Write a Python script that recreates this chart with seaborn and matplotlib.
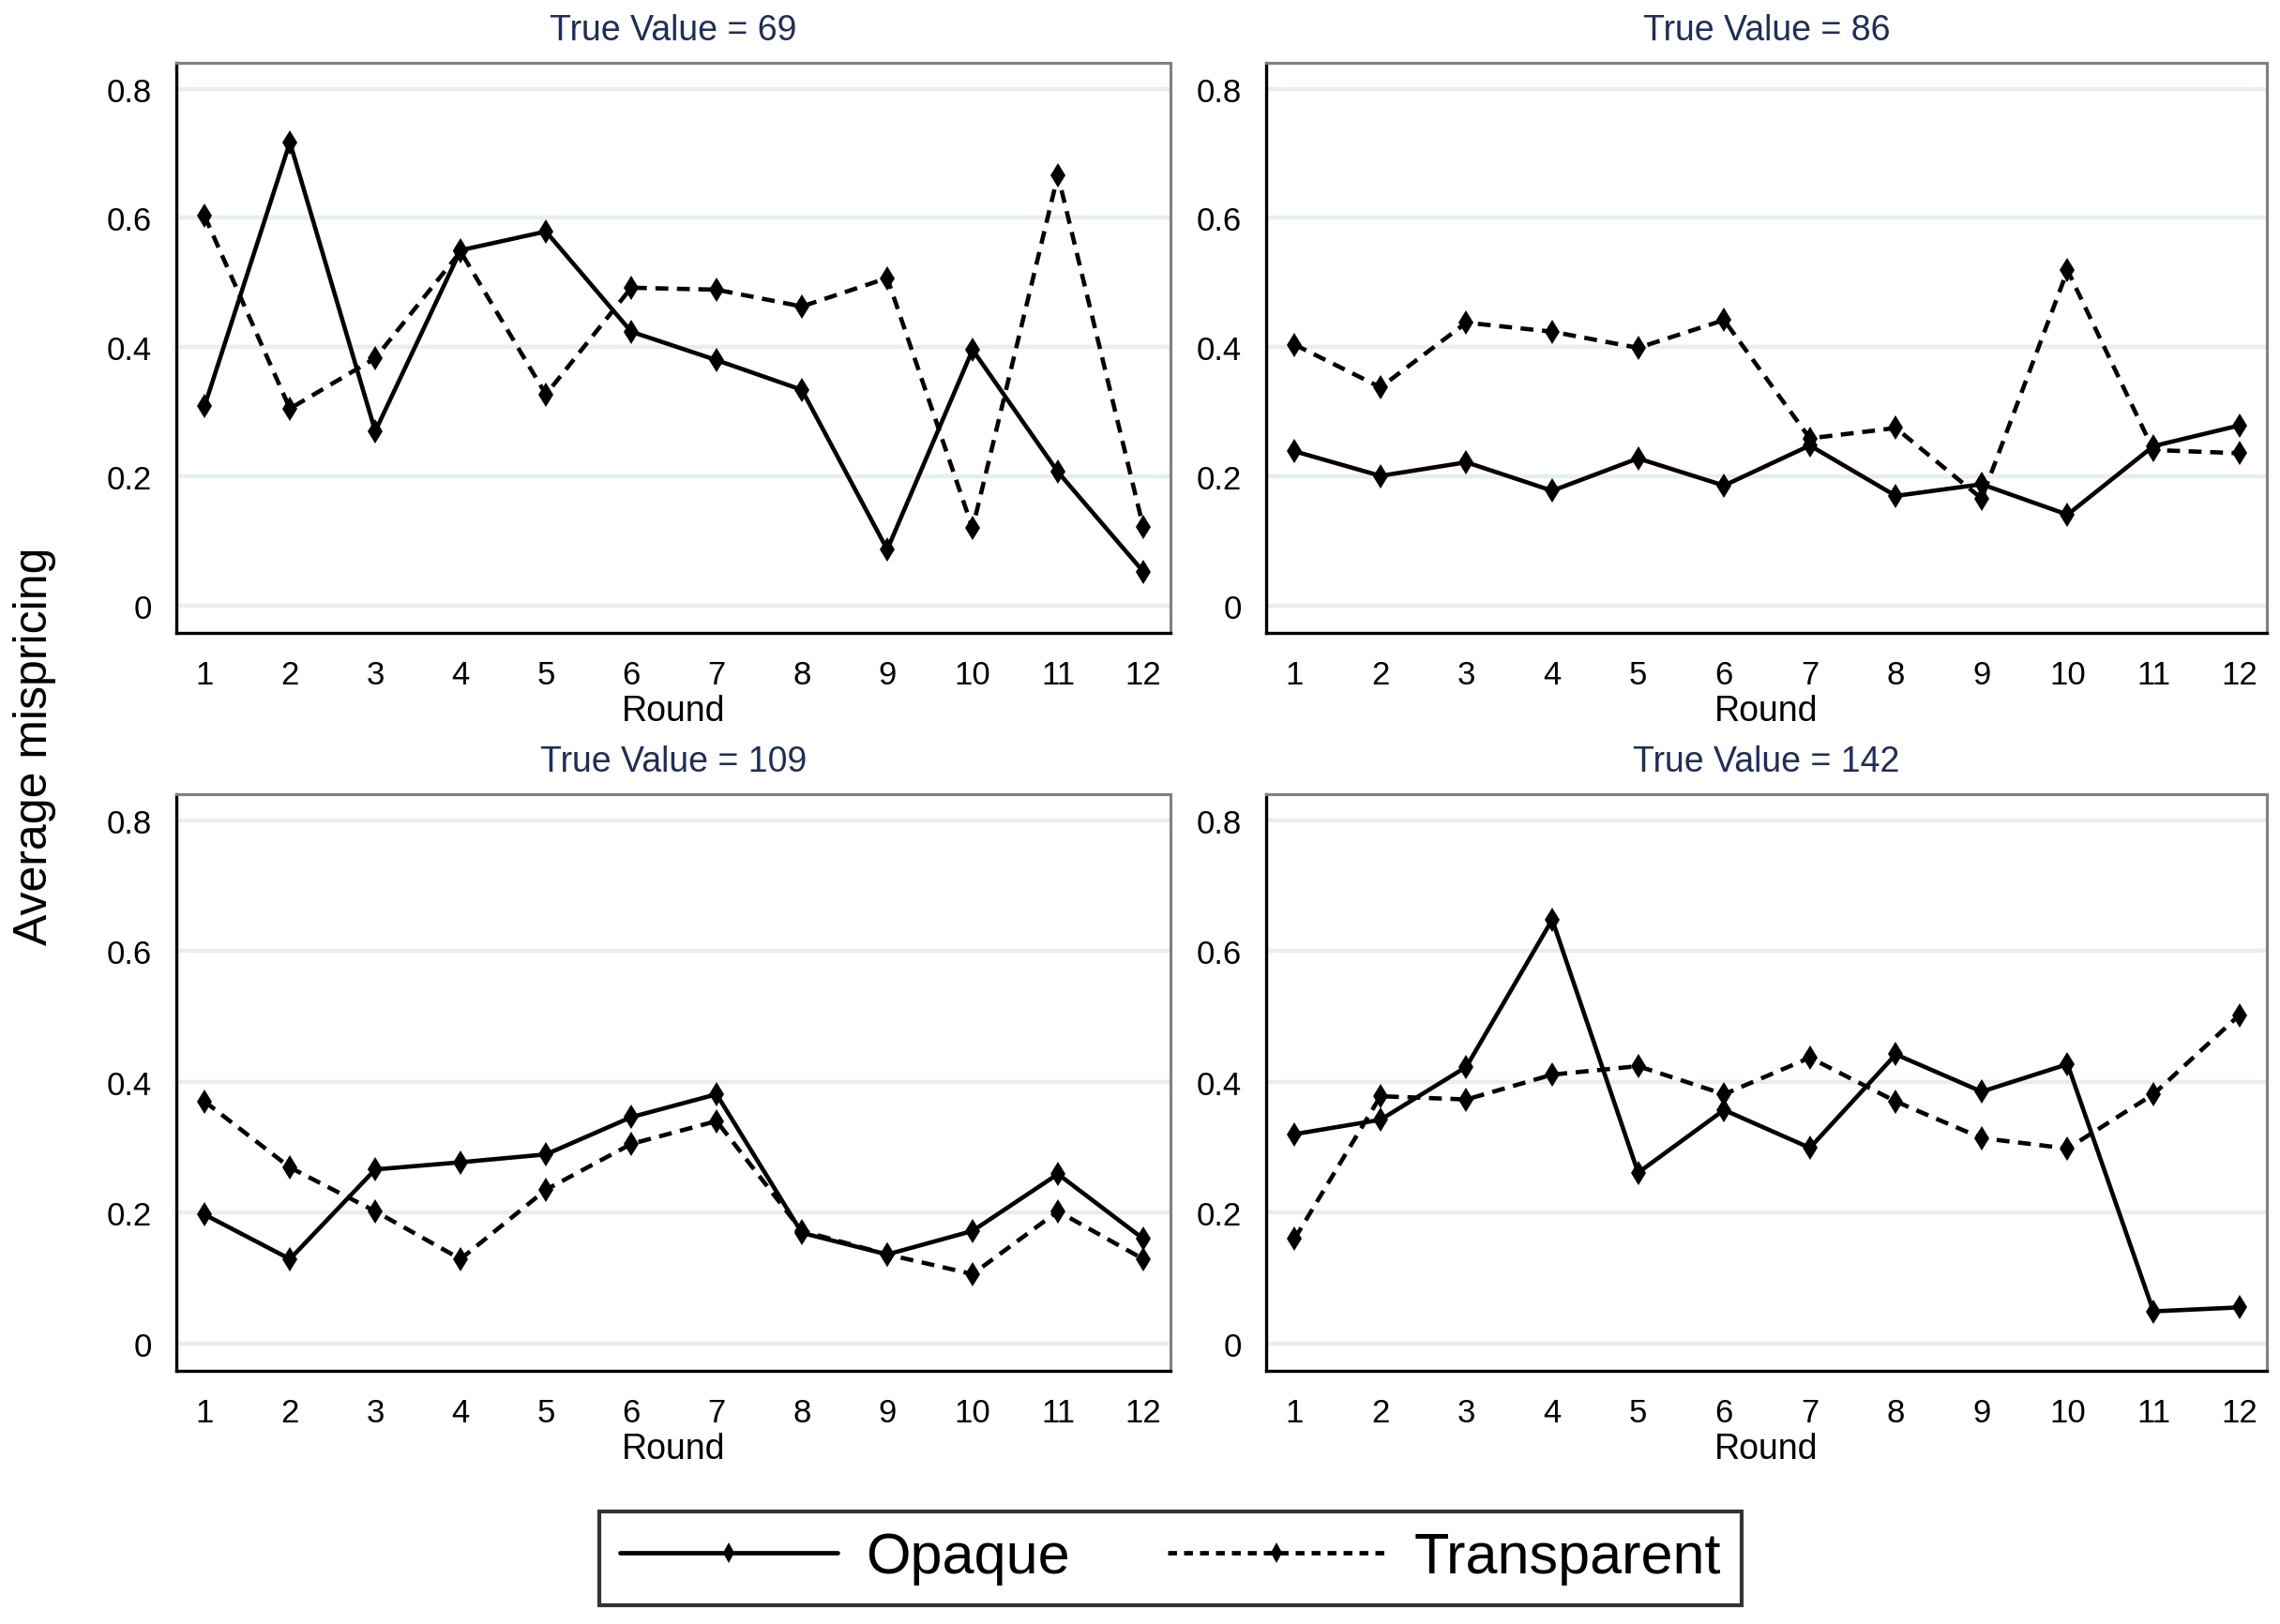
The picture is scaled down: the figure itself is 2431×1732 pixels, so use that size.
"""Average mispricing per round, opaque vs transparent markets, one panel per true value."""

import matplotlib
matplotlib.use("Agg")
import matplotlib.pyplot as plt
import pandas as pd
import seaborn as sns
from matplotlib.lines import Line2D

ROUNDS = list(range(1, 13))
TRUE_VALUES = [69, 86, 109, 142]
TREATMENTS = ["Opaque", "Transparent"]

OPAQUE_69 = [0.309, 0.717, 0.270, 0.550, 0.579, 0.424, 0.380, 0.334, 0.087, 0.396, 0.207, 0.053]
TRANSP_69 = [0.603, 0.305, 0.383, 0.548, 0.327, 0.492, 0.489, 0.463, 0.507, 0.120, 0.666, 0.122]

OPAQUE_86 = [0.239, 0.201, 0.222, 0.178, 0.228, 0.186, 0.248, 0.170, 0.188, 0.141, 0.247, 0.279]
TRANSP_86 = [0.404, 0.338, 0.438, 0.424, 0.399, 0.442, 0.259, 0.275, 0.166, 0.519, 0.241, 0.236]

OPAQUE_109 = [0.197, 0.129, 0.266, 0.277, 0.289, 0.346, 0.381, 0.169, 0.136, 0.172, 0.259, 0.160]
TRANSP_109 = [0.370, 0.269, 0.202, 0.129, 0.235, 0.305, 0.340, 0.172, 0.136, 0.106, 0.202, 0.129]

OPAQUE_142 = [0.320, 0.342, 0.423, 0.648, 0.261, 0.357, 0.299, 0.442, 0.385, 0.427, 0.049, 0.055]
TRANSP_142 = [0.160, 0.378, 0.373, 0.411, 0.424, 0.381, 0.437, 0.370, 0.314, 0.298, 0.381, 0.502]

SERIES = {
    69: (OPAQUE_69, TRANSP_69),
    86: (OPAQUE_86, TRANSP_86),
    109: (OPAQUE_109, TRANSP_109),
    142: (OPAQUE_142, TRANSP_142),
}

Y_TICKS = [0, 0.2, 0.4, 0.6, 0.8]
Y_TICK_LABELS = ["0", "0.2", "0.4", "0.6", "0.8"]

TITLE_COLOR = "#1f2d5c"
GRID_COLOR = "#e6eff0"
FRAME_COLOR = "#808080"


def long_frame() -> pd.DataFrame:
    rows = []
    for tv in TRUE_VALUES:
        for name, vals in zip(TREATMENTS, SERIES[tv]):
            for r, v in zip(ROUNDS, vals):
                rows.append({"true_value": tv, "Round": r, "treatment": name, "mispricing": v})
    return pd.DataFrame(rows)


sns.set_theme(style="white")
plt.rcParams["font.family"] = ["Liberation Sans", "DejaVu Sans"]
plt.rcParams["text.color"] = "black"
plt.rcParams["axes.labelcolor"] = "black"

df = long_frame()

fig = plt.figure(figsize=(24.31, 17.33), dpi=100)

# axes rectangles in figure fractions: (left, bottom, width, height)
rects = [
    (0.0773, 0.6099, 0.4361, 0.3509),
    (0.5553, 0.6099, 0.4389, 0.3509),
    (0.0773, 0.1558, 0.4361, 0.3549),
    (0.5553, 0.1558, 0.4389, 0.3549),
]

dashes = {"Opaque": "", "Transparent": (3, 2)}
markers = {"Opaque": "d", "Transparent": "d"}

for tv, rect in zip(TRUE_VALUES, rects):
    ax = fig.add_axes(rect)
    sub = df[df.true_value == tv]
    for y in Y_TICKS:
        ax.axhline(y, color=GRID_COLOR, lw=3.2, zorder=0)
    sns.lineplot(data=sub, x="Round", y="mispricing", style="treatment",
                 style_order=TREATMENTS, dashes=dashes, markers=markers,
                 color="black", linewidth=3.3, markersize=13.5,
                 markeredgewidth=0, legend=False, ax=ax)
    ax.set_xlim(0.668, 12.32)
    ax.set_ylim(-0.042, 0.84)
    ax.set_xticks(ROUNDS)
    ax.set_yticks(Y_TICKS)
    ax.set_yticklabels(Y_TICK_LABELS)
    ax.tick_params(axis="both", direction="out", length=12, width=2.2,
                   color="black", labelsize=25, labelcolor="black")
    ax.tick_params(axis="y", pad=7)
    ax.tick_params(axis="x", pad=8)
    ax.set_xlabel("Round", fontsize=27, labelpad=3, color="black")
    ax.set_ylabel("")
    ax.set_title(f"True Value = {tv}", fontsize=27, color=TITLE_COLOR, pad=18)
    for side in ["top", "right"]:
        ax.spines[side].set_color(FRAME_COLOR)
        ax.spines[side].set_linewidth(2.2)
    for side in ["left", "bottom"]:
        ax.spines[side].set_color("black")
        ax.spines[side].set_linewidth(2.4)

fig.text(0.0152, 0.5407, "Average mispricing", rotation=90, fontsize=36,
         ha="center", va="center", color="black")

handles = [
    Line2D([], [], color="black", lw=3.4, ls="-", marker="d", markersize=11,
           markeredgewidth=0),
    Line2D([], [], color="black", lw=3.4, ls=(0, (2, 1.6)), marker="d",
           markersize=11, markeredgewidth=0),
]
leg = fig.legend(handles, TREATMENTS, loc="center", bbox_to_anchor=(0.5134, 0.0404),
                 ncol=2, fontsize=44, frameon=True, fancybox=False,
                 handlelength=3.8, handletextpad=0.5, columnspacing=1.7,
                 borderpad=0.35, edgecolor="black", labelcolor="black")
leg.get_frame().set_linewidth(3.0)

fig.savefig("out.png", dpi=100, facecolor="white")
